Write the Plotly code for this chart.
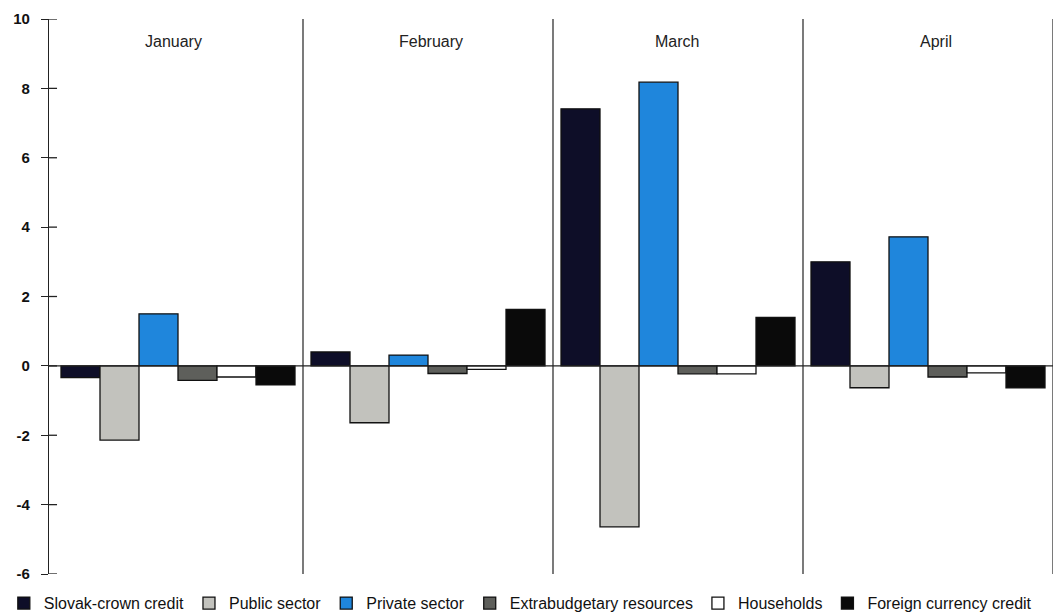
import plotly.graph_objects as go

months = ["January", "February", "March", "April"]
series_names = ["Slovak-crown credit", "Public sector", "Private sector",
                "Extrabudgetary resources", "Households", "Foreign currency credit"]
slovak_crown = [-0.34, 0.40, 7.41, 3.00]
public_sector = [-2.14, -1.64, -4.64, -0.63]
private_sector = [1.50, 0.31, 8.18, 3.72]
extrabudgetary = [-0.42, -0.22, -0.23, -0.32]
households = [-0.32, -0.10, -0.23, -0.20]
foreign_currency = [-0.55, 1.63, 1.40, -0.63]
y_ticks = [-6, -4, -2, 0, 2, 4, 6, 8, 10]
y_tick_labels = ["-6", "-4", "-2", "0", "2", "4", "6", "8", "10"]

series_values = [slovak_crown, public_sector, private_sector,
                 extrabudgetary, households, foreign_currency]
colors = ["#0e0e28", "#c2c2bd", "#1f86dc", "#5e5f5b", "#ffffff", "#0a0a0a"]

FONT = "Liberation Sans, Arial"

fig = go.Figure()
for name, vals, col in zip(series_names, series_values, colors):
    fig.add_trace(go.Bar(
        x=list(range(len(months))), y=vals, name=name,
        marker=dict(color=col, line=dict(color="#111111", width=1.3)),
    ))

# group separators
for i in range(len(months)):
    fig.add_shape(type="line", xref="x", yref="y", x0=i + 0.5, x1=i + 0.5,
                  y0=y_ticks[0], y1=y_ticks[-1], line=dict(color="#222222", width=1.2))
# zero line
fig.add_shape(type="line", xref="x", yref="y", x0=-0.516, x1=3.5, y0=0, y1=0,
              line=dict(color="#222222", width=1.2))
# inner half of the crossing tick marks
for t in y_ticks:
    fig.add_shape(type="line", xref="paper", yref="y", x0=0, x1=0.008, y0=t, y1=t,
                  line=dict(color="#222222", width=1.3))

label_shift = [-5, 3, -1, 8]
for i, m in enumerate(months):
    fig.add_annotation(x=i, y=9.35, xref="x", yref="y", text=m, showarrow=False,
                       xshift=label_shift[i],
                       font=dict(family=FONT, size=16, color="#222222"))

fig.update_layout(
    width=1055, height=616,
    margin=dict(l=49, r=2, t=19, b=42, autoexpand=False),
    paper_bgcolor="white", plot_bgcolor="white",
    barmode="group", bargap=0.064, bargroupgap=0,
    showlegend=True,
    legend=dict(orientation="h", x=-0.045, xanchor="left", y=-0.022, yanchor="top",
                font=dict(family=FONT, size=16, color="#111111"),
                itemwidth=30, traceorder="normal", tracegroupgap=0,
                bgcolor="rgba(0,0,0,0)"),
    xaxis=dict(range=[-0.516, 3.5], showticklabels=False, showgrid=False,
               zeroline=False, showline=False, ticks=""),
    yaxis=dict(range=[-6, 10], tickvals=y_ticks, ticktext=y_tick_labels,
               showgrid=False, zeroline=False,
               showline=True, linecolor="#222222", linewidth=1.3,
               ticks="outside", ticklen=7, tickwidth=1.3, tickcolor="#222222",
               ticklabelstandoff=8,
               tickfont=dict(family=FONT, size=15, color="#111111", weight="bold")),
)

fig.write_html("out.html")
